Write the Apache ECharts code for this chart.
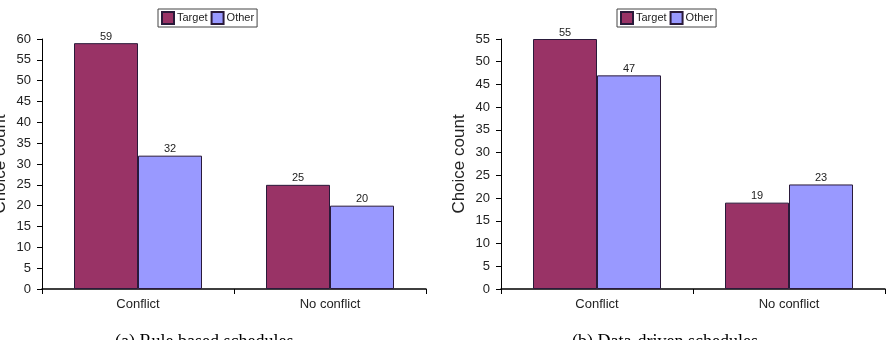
<!DOCTYPE html>
<html>
<head>
<meta charset="utf-8">
<script src="https://cdn.jsdelivr.net/npm/echarts@6/dist/echarts.min.js"></script>
<style>html,body{margin:0;padding:0;background:#fff}#c{width:890px;height:340px}</style>
</head>
<body>
<div id="c"></div>
<script>
const categories = ['Conflict', 'No conflict'];
const seriesNames = ['Target', 'Other'];
const ruleTarget = [59, 25];
const ruleOther = [32, 20];
const dataTarget = [55, 19];
const dataOther = [47, 23];
const yMaxRule = 60;
const yMaxData = 55;
const yInterval = 5;
const yAxisTitle = 'Choice count';
const captions = ['(a) Rule based schedules', '(b) Data-driven schedules'];

const FONT = '"Liberation Sans", Arial, sans-serif';
const SERIF = '"Liberation Serif", "Times New Roman", serif';
const TXT = '#222';
const colors = ['#993366', '#9999FF'];

const chart = echarts.init(document.getElementById('c'), null, {renderer: 'canvas'});

function xAxis(gi) {
  return {
    type: 'category', gridIndex: gi, data: categories,
    axisLine: {lineStyle: {color: '#000', width: 1.5}},
    axisTick: {show: true, length: 5, lineStyle: {color: '#000'}},
    axisLabel: {color: TXT, fontFamily: FONT, fontSize: 13, margin: 9},
    splitLine: {show: false}
  };
}
function yAxis(gi, max) {
  return {
    type: 'value', gridIndex: gi, min: 0, max: max, interval: yInterval,
    name: yAxisTitle, nameLocation: 'middle', nameGap: 33,
    nameTextStyle: {color: TXT, fontFamily: FONT, fontSize: 17},
    axisLine: {show: true, lineStyle: {color: '#000', width: 1}},
    axisTick: {show: true, length: 5, lineStyle: {color: '#000'}},
    axisLabel: {color: TXT, fontFamily: FONT, fontSize: 13, margin: 11},
    splitLine: {show: false}
  };
}
function bar(name, data, gi, ci) {
  return {
    type: 'bar', name: name, data: data, xAxisIndex: gi, yAxisIndex: gi,
    barWidth: 64, barGap: '0%',
    itemStyle: {color: colors[ci], borderColor: '#2a1a3a', borderWidth: 1},
    label: {show: true, position: 'top', distance: 1, color: TXT, fontFamily: FONT, fontSize: 11}
  };
}
function legend(left) {
  return {
    data: seriesNames, left: left, top: 9, orient: 'horizontal',
    itemWidth: 12, itemHeight: 12, itemGap: 3,
    padding: [2, 3, 2, 3], borderColor: '#444', borderWidth: 1,
    textStyle: {color: TXT, fontFamily: FONT, fontSize: 11, padding: [0, 0, 0, -2]},
    icon: 'rect', selectedMode: false
  };
}

chart.setOption({
  animation: false,
  backgroundColor: '#fff',
  grid: [
    {left: 42, top: 39, width: 384, height: 250, outerBoundsMode: 'none', containLabel: false},
    {left: 501, top: 39, width: 384, height: 250, outerBoundsMode: 'none', containLabel: false}
  ],
  legend: [legend(158), legend(617)],
  xAxis: [xAxis(0), xAxis(1)],
  yAxis: [yAxis(0, yMaxRule), yAxis(1, yMaxData)],
  series: [
    bar(seriesNames[0], ruleTarget, 0, 0),
    bar(seriesNames[1], ruleOther, 0, 1),
    bar(seriesNames[0], dataTarget, 1, 0),
    bar(seriesNames[1], dataOther, 1, 1)
  ],
  graphic: [
    {type: 'text', left: 115, top: 333, style: {text: captions[0], fontFamily: SERIF, fontSize: 18, fill: '#000'}},
    {type: 'text', left: 572, top: 333, style: {text: captions[1], fontFamily: SERIF, fontSize: 18, fill: '#000'}}
  ]
});
</script>
</body>
</html>
